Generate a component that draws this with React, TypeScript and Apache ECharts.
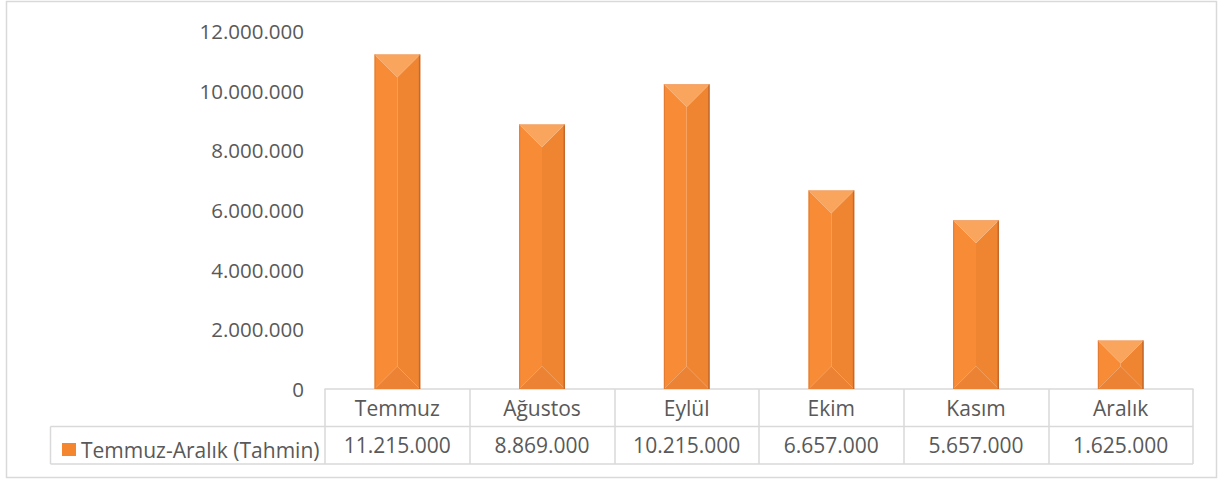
import React, { useEffect, useRef } from "react";
import * as echarts from "echarts";

const categories = ["Temmuz", "Ağustos", "Eylül", "Ekim", "Kasım", "Aralık"];
const seriesName = "Temmuz-Aralık (Tahmin)";
const values = [11215000, 8869000, 10215000, 6657000, 5657000, 1625000];
const yTicks = [0, 2000000, 4000000, 6000000, 8000000, 10000000, 12000000];

const fmt = (v: number) => String(v).replace(/\B(?=(\d{3})+(?!\d))/g, ".");

const FONT = "Open Sans";
const TXT = "#595959";
const LINE = "#D9D9D9";

export default function App() {
  const ref = useRef<HTMLDivElement>(null);
  useEffect(() => {
    const chart = echarts.init(ref.current!, undefined, { renderer: "svg" });
    const option: any = {
      animation: false,
      backgroundColor: "#ffffff",
      textStyle: { fontFamily: FONT },
      grid: { left: 325, right: 31, top: 31, bottom: 91 },
      legend: {
        data: [seriesName],
        left: 57,
        top: 434,
        icon: "rect",
        itemWidth: 14,
        itemHeight: 13,
        itemGap: 6,
        textStyle: { fontFamily: FONT, fontSize: 21, color: TXT },
      },
      xAxis: [
        {
          type: "category",
          data: categories,
          position: "bottom",
          axisLine: { show: true, lineStyle: { color: LINE, width: 1.5 } },
          axisTick: { show: true, length: 75, lineStyle: { color: LINE, width: 1.5 } },
          axisLabel: {
            fontFamily: FONT,
            fontSize: 21,
            color: TXT,
            margin: 19,
            verticalAlign: "middle",
          },
        },
        {
          type: "category",
          data: values.map(fmt),
          position: "bottom",
          offset: 37,
          axisLine: { show: false },
          axisTick: { show: false },
          axisLabel: {
            fontFamily: FONT,
            fontSize: 21,
            color: TXT,
            margin: 19,
            verticalAlign: "middle",
          },
        },
      ],
      yAxis: {
        type: "value",
        min: yTicks[0],
        max: yTicks[yTicks.length - 1],
        interval: yTicks[1] - yTicks[0],
        axisLine: { show: false },
        axisTick: { show: false },
        splitLine: { show: false },
        axisLabel: {
          fontFamily: FONT,
          fontSize: 20.5,
          color: TXT,
          margin: 21,
          formatter: (v: number) => fmt(v),
        },
      },
      series: [
        {
          type: "custom",
          name: seriesName,
          xAxisIndex: 0,
          itemStyle: { color: "#F4862F" },
          data: values.map((v, i) => [i, v]),
          renderItem: (params: any, api: any) => {
            const idx = api.value(0);
            const val = api.value(1);
            const top = api.coord([idx, val]);
            const base = api.coord([idx, 0]);
            const w = api.size([1, 0])[0] * 0.315;
            const xc = top[0];
            const x0 = xc - w / 2;
            const x1 = xc + w / 2;
            const y0 = top[1];
            const y1 = base[1];
            const d = Math.min(w / 2, (y1 - y0) / 2);
            return {
              type: "group",
              children: [
                {
                  type: "polygon",
                  shape: { points: [[x0, y0], [xc, y0 + d], [xc, y1 - d], [x0, y1]] },
                  style: { fill: "#F88B36" },
                },
                {
                  type: "polygon",
                  shape: { points: [[x1, y0], [xc, y0 + d], [xc, y1 - d], [x1, y1]] },
                  style: { fill: "#EF8431" },
                },
                {
                  type: "polygon",
                  shape: { points: [[x0, y0], [x1, y0], [xc, y0 + d]] },
                  style: { fill: "#FAA55E" },
                },
                {
                  type: "polygon",
                  shape: { points: [[x0, y1], [x1, y1], [xc, y1 - d]] },
                  style: { fill: "#EC8334" },
                },
                {
                  type: "line",
                  shape: { x1: x0 + 0.5, y1: y0, x2: x0 + 0.5, y2: y1 },
                  style: { stroke: "#E07A32", lineWidth: 1 },
                },
                {
                  type: "line",
                  shape: { x1: x1 - 0.5, y1: y0, x2: x1 - 0.5, y2: y1 },
                  style: { stroke: "#C4682B", lineWidth: 1.5 },
                },
                {
                  type: "line",
                  shape: { x1: x0, y1: y0 + 0.5, x2: x1, y2: y0 + 0.5 },
                  style: { stroke: "#F3A36A", lineWidth: 1 },
                },
              ],
            };
          },
        },
      ],
      graphic: [
        {
          type: "rect",
          shape: { x: 6.5, y: 1.5, width: 1210, height: 476 },
          style: { fill: "none", stroke: LINE, lineWidth: 1.5 },
          silent: true,
        },
        {
          type: "line",
          shape: { x1: 50.5, y1: 426.5, x2: 1193, y2: 426.5 },
          style: { stroke: LINE, lineWidth: 1.5 },
        },
        {
          type: "line",
          shape: { x1: 50.5, y1: 464, x2: 1193, y2: 464 },
          style: { stroke: LINE, lineWidth: 1.5 },
        },
        {
          type: "line",
          shape: { x1: 50.5, y1: 426.5, x2: 50.5, y2: 464 },
          style: { stroke: LINE, lineWidth: 1.5 },
        },
      ],
    };
    chart.setOption(option);
    return () => chart.dispose();
  }, []);
  return (
    <div
      ref={ref}
      style={{ position: "absolute", left: 0, top: 0, width: 1224, height: 480 }}
    />
  );
}
